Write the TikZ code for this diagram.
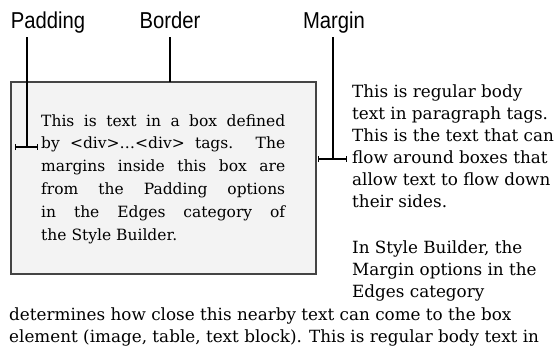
\documentclass[tikz,border=0pt]{standalone}
\usepackage{fontspec}
\newfontfamily\bodyfont{DejaVu Serif}
\newfontfamily\labelfont[FakeStretch=0.88]{Liberation Sans}
\usetikzlibrary{arrows.meta}
\definecolor{boxfill}{HTML}{F3F3F3}
\definecolor{boxline}{HTML}{444444}
\tikzset{
  bt/.style={anchor=base west, inner sep=0pt, font=\bodyfont\fontsize{16.8}{20}\selectfont},
  bx/.style={anchor=base west, inner sep=0pt, font=\bodyfont\fontsize{15.5}{19}\selectfont},
  lbl/.style={anchor=base, inner sep=0pt, font=\labelfont\fontsize{23}{26}\selectfont},
  lead/.style={line width=1.3pt, black},
  dimline/.style={line width=1.3pt, black, {Bar[width=6pt,line width=1pt]}-{Bar[width=6pt,line width=1pt]}},
}
\begin{document}
\begin{tikzpicture}[x=1pt,y=-1pt]
\useasboundingbox (0,0) rectangle (560,349);
% box
\draw[fill=boxfill, draw=boxline, line width=1.6pt] (11,82) rectangle (316,274);
\coordinate (boxtop) at (170,82);
% box text
\node[bx] (b1) at (41,126.0) {\makebox[244pt][s]{This is text in a box defined}};
\node[bx] (b2) at (41,148.8) {\makebox[244pt][s]{by <div>…<div> tags. The}};
\node[bx] (b3) at (41,171.6) {\makebox[244pt][s]{margins inside this box are}};
\node[bx] (b4) at (41,194.4) {\makebox[244pt][s]{from the Padding options}};
\node[bx] (b5) at (41,217.2) {\makebox[244pt][s]{in the Edges category of}};
\node[bx] (b6) at (41,240.0) {the Style Builder.};
% right column
\node[bt] (r1) at (352,97) {This is regular body};
\node[bt] (r2) at (352,119) {text in paragraph tags.};
\node[bt] (r3) at (352,141) {This is the text that can};
\node[bt] (r4) at (352,163) {flow around boxes that};
\node[bt] (r5) at (352,185) {allow text to flow down};
\node[bt] (r6) at (352,207) {their sides.};
\node[bt] (r7) at (352,253) {In Style Builder, the};
\node[bt] (r8) at (352,275) {Margin options in the};
\node[bt] (r9) at (352,297) {Edges category};
\node[bt] (d1) at (9,320) {determines how close this nearby text can come to the box};
\node[bt] (d2) at (9,342) {element (image, table, text block). This is regular body text in};
% labels
\node[lbl] (padding) at (48,28) {Padding};
\node[lbl] (border) at (170,28) {Border};
\node[lbl] (margin) at (334,28) {Margin};
% leaders
\coordinate (padL) at (15,147);
\coordinate (padR) at (38,147);
\coordinate (padJ) at (27,147);
\coordinate (padT) at (27,37);
\coordinate (borT) at (170,37);
\coordinate (marL) at (318,159);
\coordinate (marR) at (347,159);
\coordinate (marJ) at (333,159);
\coordinate (marT) at (333,37);
\draw[lead] (padT) -- (padJ);
\draw[dimline] (padL) -- (padR);
\draw[lead] (borT) -- (boxtop);
\draw[lead] (marT) -- (marJ);
\draw[dimline] (marL) -- (marR);
\end{tikzpicture}
\end{document}
